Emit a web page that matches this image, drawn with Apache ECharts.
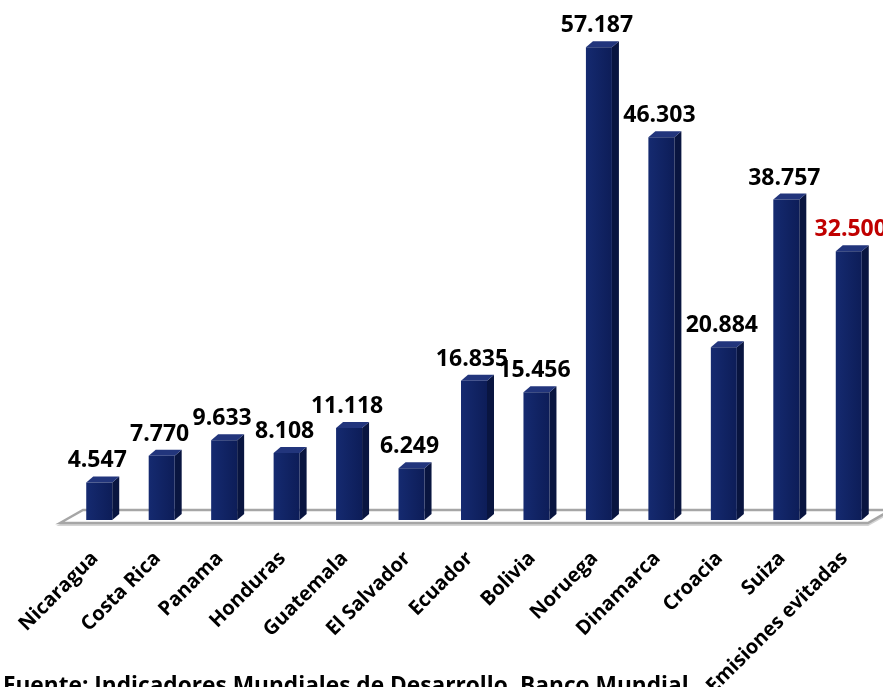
<!DOCTYPE html>
<html>
<head>
<meta charset="utf-8">
<script src="https://cdn.jsdelivr.net/npm/echarts@6/dist/echarts.min.js"></script>
<style>
html,body{margin:0;padding:0;background:#fff;}
#chart{width:883px;height:687px;}
</style>
</head>
<body>
<div id="chart"></div>
<script>
// ---- data ----
const categories = ['Nicaragua','Costa Rica','Panama','Honduras','Guatemala','El Salvador','Ecuador','Bolivia','Noruega','Dinamarca','Croacia','Suiza','Emisiones evitadas'];
const values = [4547, 7770, 9633, 8108, 11118, 6249, 16835, 15456, 57187, 46303, 20884, 38757, 32500];
const highlightCategory = 'Emisiones evitadas';
const sourceText = 'Fuente: Indicadores Mundiales de Desarrollo, Banco Mundial';

// ---- helpers ----
function fmt(v){ return String(v).replace(/\B(?=(\d{3})+(?!\d))/g, '.'); }

const SIDE = '#091540', TOP = '#22357c';
const LABEL_FONT = 'bold 23px "Open Sans", sans-serif';

function renderBar(params, api){
  const idx = api.value(0), v = api.value(1);
  const base = api.coord([idx, 0]);
  const top = api.coord([idx, v]);
  const bw = 26, dx = 7, dy = 6;
  const cx = base[0];
  const x0 = cx - bw/2, x1 = cx + bw/2;
  const yb = base[1], yt = top[1];
  const isHi = categories[idx] === highlightCategory;
  return {
    type: 'group',
    children: [
      {type:'polygon', shape:{points:[[x1,yb],[x1+dx,yb-dy],[x1+dx,yt-dy],[x1,yt]]}, style:{fill:SIDE}},
      {type:'polygon', shape:{points:[[x0,yt],[x0+dx,yt-dy],[x1+dx,yt-dy],[x1,yt]]}, style:{fill:TOP}},
      {type:'rect', shape:{x:x0, y:yt, width:bw, height:yb-yt}, style:{fill:new echarts.graphic.LinearGradient(0,0,1,0,[{offset:0,color:'#152a70'},{offset:1,color:'#0d1d58'}])}},
      {type:'text', x:isHi ? cx+2 : cx-2, y:yt-dy-4, style:{text:fmt(v), font:LABEL_FONT, fill:isHi?'#C00000':'#000000', align:'center', verticalAlign:'bottom'}}
    ]
  };
}

function renderFloor(params, api){
  const cs = params.coordSys;
  const yb = cs.y + cs.height;
  const fl = cs.x - 8, fr = cs.x + cs.width - 12;
  const ddx = 23, ddy = 13;
  const yf = yb + 3, yk = yf - ddy;
  return {
    type:'group',
    children:[
      {type:'polygon', shape:{points:[[fl,yf+2],[fl+ddx,yk+2],[fr+ddx,yk+2],[fr,yf+2]]}, style:{fill:'none', stroke:'#d4d4d4', lineWidth:2}},
      {type:'polygon', shape:{points:[[fl,yf],[fl+ddx,yk],[fr+ddx,yk],[fr,yf]]}, style:{fill:'#ffffff', stroke:'#a6a6a6', lineWidth:2.5}}
    ]
  };
}

const chart = echarts.init(document.getElementById('chart'), null, {renderer:'canvas'});
chart.setOption({
  animation:false,
  backgroundColor:'#ffffff',
  grid:{left:68, right:3, top:24, bottom:167, containLabel:false, outerBoundsMode:'none'},
  xAxis:{
    type:'category', data:categories,
    axisLine:{show:false}, axisTick:{show:false},
    axisLabel:{rotate:45, interval:0, margin:31, padding:[0,6,0,0], color:'#000', fontFamily:'"Open Sans", sans-serif', fontWeight:'bold', fontSize:20}
  },
  yAxis:{type:'value', min:0, max:60000, show:false, splitLine:{show:false}},
  series:[
    {type:'custom', renderItem:renderFloor, data:[[0,0]], z:1, silent:true, clip:false},
    {type:'custom', renderItem:renderBar, data:values.map((v,i)=>[i,v]), z:2, clip:false}
  ],
  graphic:[
    {type:'text', left:3, top:675, style:{text:sourceText, font:'bold 22.7px "Open Sans", sans-serif', fill:'#000'}}
  ]
});
</script>
</body>
</html>
